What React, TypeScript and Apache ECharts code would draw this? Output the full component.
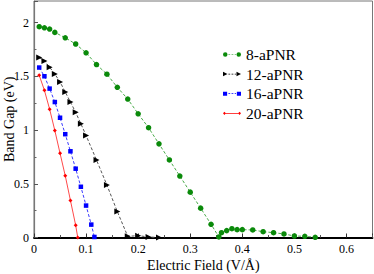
import React, { useEffect, useRef } from "react";
import * as echarts from "echarts";

const seriesNames = ["8-aPNR", "12-aPNR", "16-aPNR", "20-aPNR"];

const field8 = [0.01, 0.02, 0.03, 0.04, 0.06, 0.08, 0.10, 0.12, 0.14, 0.16, 0.18, 0.20, 0.22, 0.24, 0.26, 0.28, 0.30, 0.32, 0.34, 0.355, 0.36, 0.37, 0.38, 0.39, 0.40, 0.42, 0.44, 0.46, 0.48, 0.50, 0.52, 0.54];
const gap8 = [1.961, 1.951, 1.939, 1.908, 1.858, 1.80, 1.718, 1.609, 1.519, 1.397, 1.288, 1.151, 1.021, 0.871, 0.721, 0.572, 0.422, 0.273, 0.123, 0.005, 0.045, 0.064, 0.082, 0.073, 0.073, 0.07, 0.054, 0.045, 0.033, 0.014, 0.011, 0.002];

const field12 = [0.01, 0.02, 0.03, 0.04, 0.05, 0.06, 0.07, 0.08, 0.09, 0.10, 0.12, 0.14, 0.16, 0.18, 0.20, 0.22, 0.24];
const gap12 = [1.675, 1.643, 1.584, 1.521, 1.447, 1.353, 1.26, 1.164, 1.058, 0.949, 0.721, 0.488, 0.241, 0.011, 0.017, 0.005, 0.0];

const field16 = [0.01, 0.02, 0.03, 0.04, 0.05, 0.06, 0.07, 0.08, 0.09, 0.10, 0.11, 0.116];
const gap16 = [1.581, 1.50, 1.385, 1.26, 1.114, 0.961, 0.802, 0.64, 0.472, 0.297, 0.12, 0.005];

const field20 = [0.01, 0.02, 0.03, 0.04, 0.05, 0.06, 0.07, 0.08, 0.084];
const gap20 = [1.509, 1.369, 1.194, 0.995, 0.783, 0.575, 0.344, 0.114, 0.0];

const zip = (xs: number[], ys: number[]) => xs.map((x, i) => [x, ys[i]]);

const FONT = "'Liberation Serif', 'Times New Roman', 'DejaVu Serif', serif";

// legend icons: marker at both ends of a short (dashed) line, drawn in a 20x5 box
const dashes = "M6,2.1h2v0.8h-2Z M9.5,2.1h2v0.8h-2Z M13,2.1h1.5v0.8h-1.5Z";
const iconCircle = "path://M0,2.5a2.5,2.5 0 1,0 5,0a2.5,2.5 0 1,0 -5,0Z M15,2.5a2.5,2.5 0 1,0 5,0a2.5,2.5 0 1,0 -5,0Z " + dashes;
const iconTri = "path://M0,0L5,2.5L0,5Z M15,0L20,2.5L15,5Z " + dashes;
const iconRect = "path://M0,0.2h4.6v4.6h-4.6Z M15.4,0.2h4.6v4.6h-4.6Z " + dashes;
const iconRed = "path://M0,2.5L1.6,0.7L3.2,2.5L1.6,4.3Z M16.8,2.5L18.4,0.7L20,2.5L18.4,4.3Z M1.6,2.1h16.8v0.8h-16.8Z M0,0h0.01v0.01Z M0,5h0.01v-0.01Z";

export default function App() {
  const ref = useRef<HTMLDivElement>(null);
  useEffect(() => {
    const chart = echarts.init(ref.current!, undefined, { renderer: "svg" });
    chart.setOption({
      animation: false,
      backgroundColor: "#fff",
      textStyle: { fontFamily: FONT },
      grid: {
        left: 34,
        top: 1,
        right: 1.5,
        bottom: 36.5,
        containLabel: false,
        outerBoundsMode: "none",
        show: true,
        borderColor: "#777",
        borderWidth: 1,
      },
      legend: {
        left: 218,
        top: 41.5,
        orient: "vertical",
        itemWidth: 18,
        itemHeight: 4.5,
        itemGap: 3.6,
        itemStyle: { borderWidth: 0 },
        textStyle: { fontFamily: FONT, fontSize: 15.5, color: "#000", padding: [0, 0, 0, 0] },
        data: [
          { name: seriesNames[0], icon: iconCircle },
          { name: seriesNames[1], icon: iconTri },
          { name: seriesNames[2], icon: iconRect },
          { name: seriesNames[3], icon: iconRed },
        ],
      },
      xAxis: {
        type: "value",
        min: 0,
        max: 0.65,
        interval: 0.1,
        name: "Electric Field (V/Å)",
        nameLocation: "middle",
        nameGap: 21,
        nameMoveOverlap: false,
        nameTextStyle: { fontFamily: FONT, fontSize: 14, color: "#000" },
        axisLine: { show: true, lineStyle: { color: "#000", width: 1.8 } },
        axisTick: { show: true, inside: true, length: 4, lineStyle: { color: "#333" } },
        minorTick: { show: true, splitNumber: 2, length: 2.5, lineStyle: { color: "#555" } },
        axisLabel: {
          fontFamily: FONT,
          fontSize: 12,
          color: "#000",
          margin: 5,
          showMaxLabel: false,
          formatter: (v: number) => (v === 0 ? "0" : String(Math.round(v * 10) / 10)),
        },
        splitLine: { show: false },
      },
      yAxis: {
        type: "value",
        min: 0,
        max: 2.2,
        interval: 0.5,
        name: "Band Gap (eV)",
        nameLocation: "middle",
        nameGap: 18,
        nameMoveOverlap: false,
        nameTextStyle: { fontFamily: FONT, fontSize: 14, color: "#000" },
        axisLine: { show: true, lineStyle: { color: "#777", width: 1.2 } },
        axisTick: { show: true, inside: true, length: 4, lineStyle: { color: "#555" } },
        minorTick: { show: true, splitNumber: 2, length: 2.5, lineStyle: { color: "#666" } },
        axisLabel: { fontFamily: FONT, fontSize: 12, color: "#000", margin: 5, showMaxLabel: false },
        splitLine: { show: false },
      },
      series: [
        {
          name: seriesNames[0],
          type: "line",
          data: zip(field8, gap8),
          symbol: "circle",
          symbolSize: 5.5,
          itemStyle: { color: "#0a8a0a", borderWidth: 0 },
          lineStyle: { color: "#4aaa4a", width: 1, type: [3, 2] },
        },
        {
          name: seriesNames[1],
          type: "line",
          data: zip(field12, gap12),
          symbol: "triangle",
          symbolRotate: -90,
          symbolSize: 6,
          itemStyle: { color: "#000", borderWidth: 0 },
          lineStyle: { color: "#555", width: 1, type: [3, 2] },
        },
        {
          name: seriesNames[2],
          type: "line",
          data: zip(field16, gap16),
          symbol: "rect",
          symbolSize: 4.5,
          itemStyle: { color: "#0000ff", borderWidth: 0 },
          lineStyle: { color: "#3a3aff", width: 1, type: [3, 2] },
        },
        {
          name: seriesNames[3],
          type: "line",
          data: zip(field20, gap20),
          symbol: "diamond",
          symbolSize: 4,
          itemStyle: { color: "#ff0000", borderWidth: 0 },
          lineStyle: { color: "#ff4a4a", width: 1 },
        },
      ],
    });
    return () => chart.dispose();
  }, []);
  return (
    <div
      ref={ref}
      style={{ position: "fixed", left: 0, top: 0, width: 374, height: 274, background: "#fff" }}
    />
  );
}
